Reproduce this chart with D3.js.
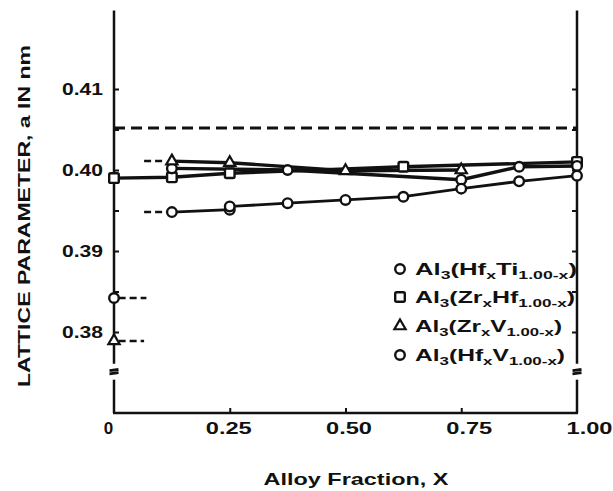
<!DOCTYPE html>
<html>
<head>
<meta charset="utf-8">
<script src="https://cdn.jsdelivr.net/npm/d3@7"></script>
<style>
  body { margin: 0; background: #fff; }
  svg text { font-family: "Liberation Sans", Arial, sans-serif; font-weight: bold; fill: #111; }
</style>
</head>
<body>
<div id="chart"></div>
<script>
// values
var xHfTi = [0, 0.125, 0.25, 0.25, 0.375, 0.5, 0.625, 0.75, 0.875, 1.0];
var aHfTi = [0.3842, 0.3948, 0.3951, 0.3955, 0.3959, 0.3963, 0.3967, 0.3977, 0.3986, 0.3993];

var xZrHf = [0, 0.125, 0.25, 0.625, 1.0];
var aZrHf = [0.3990, 0.3991, 0.3996, 0.4004, 0.4010];

var xZrV = [0, 0.125, 0.25, 0.5, 0.75];
var aZrV = [0.3789, 0.4011, 0.4009, 0.3999, 0.4000];

var xHfV = [0.125, 0.375, 0.75, 0.875, 1.0];
var aHfV = [0.4002, 0.4000, 0.3988, 0.4004, 0.4005];

var refLattice = 0.4052;   // dashed reference line
var breakValue = 0.3751;   // axis break

// dashed lead-ins  [from x, to x, a]
var stubs = [[0.01, 0.07, 0.3842], [0.01, 0.065, 0.3789], [0.065, 0.11, 0.4011], [0.065, 0.11, 0.3948]];

var yTicks = [0.38, 0.385, 0.39, 0.395, 0.40, 0.405, 0.41];
var yLabels = [0.38, 0.39, 0.40, 0.41];
var xTicks = [0.25, 0.5, 0.75];
var xLabels = [0, 0.25, 0.5, 0.75, 1.0];
var xLabelText = ["0", "0.25", "0.50", "0.75", "1.00"];

var legendSymbols = ["circle", "square", "triangle", "circle"];
var legendParts = [
  [["Al", 0], ["3", 1], ["(Hf", 0], ["x", 1], ["Ti", 0], ["1.00-x", 1], [")", 0]],
  [["Al", 0], ["3", 1], ["(Zr", 0], ["x", 1], ["Hf", 0], ["1.00-x", 1], [")", 0]],
  [["Al", 0], ["3", 1], ["(Zr", 0], ["x", 1], ["V", 0], ["1.00-x", 1], [")", 0]],
  [["Al", 0], ["3", 1], ["(Hf", 0], ["x", 1], ["V", 0], ["1.00-x", 1], [")", 0]]
];
var legendWidths = [162, 160, 147, 150];

var width = 613, height = 491;
var ink = "#111";

var svg = d3.select("#chart").append("svg")
  .attr("width", width)
  .attr("height", height);

var x = d3.scaleLinear().domain([0, 1]).range([114, 577]);
var xLab = d3.scaleLinear().domain([0, 1]).range([108, 589]);
var y = d3.scaleLinear().domain([0.37, 0.42]).range([413, 8]);

var yTop = 0.4197;
var gap = 8;

// axis frame (left & right with break, bottom)
[0, 1].forEach(function(side) {
  var px = x(side);
  svg.append("line").attr("x1", px).attr("x2", px)
    .attr("y1", y(yTop)).attr("y2", y(breakValue) - gap)
    .attr("stroke", ink).attr("stroke-width", 2.5);
  svg.append("line").attr("x1", px).attr("x2", px)
    .attr("y1", y(breakValue) + gap).attr("y2", y(0.37))
    .attr("stroke", ink).attr("stroke-width", 2.5);
  [-1.6, 1.6].forEach(function(o) {
    svg.append("line")
      .attr("x1", px - 4.5).attr("x2", px + 4.5)
      .attr("y1", y(breakValue) + o + 0.6).attr("y2", y(breakValue) + o - 0.6)
      .attr("stroke", ink).attr("stroke-width", 2.8);
  });
});
svg.append("line").attr("x1", x(0) - 1).attr("x2", x(1) + 1)
  .attr("y1", y(0.37)).attr("y2", y(0.37))
  .attr("stroke", ink).attr("stroke-width", 2.5);

// inward ticks
var leftTicks = svg.append("g").attr("transform", "translate(" + x(0) + ",0)")
  .call(d3.axisLeft(y).tickValues(yTicks).tickSize(-5).tickFormat(""));
var rightTicks = svg.append("g").attr("transform", "translate(" + x(1) + ",0)")
  .call(d3.axisRight(y).tickValues(yTicks).tickSize(-5).tickFormat(""));
var bottomTicks = svg.append("g").attr("transform", "translate(0," + y(0.37) + ")")
  .call(d3.axisBottom(x).tickValues(xTicks).tickSize(-5).tickFormat(""));
[leftTicks, rightTicks, bottomTicks].forEach(function(g) {
  g.select(".domain").remove();
  g.selectAll("line").attr("stroke", ink).attr("stroke-width", 2);
});

// tick labels
var yLab = svg.append("g").attr("transform", "translate(" + x(0) + ",0)")
  .call(d3.axisLeft(y).tickValues(yLabels).tickSize(0).tickPadding(11)
    .tickFormat(d3.format(".2f")));
yLab.select(".domain").remove();
yLab.selectAll("text").attr("font-size", 17).attr("font-family", null)
  .attr("textLength", 41).attr("lengthAdjust", "spacingAndGlyphs");

var xLabG = svg.append("g").attr("transform", "translate(0," + y(0.37) + ")")
  .call(d3.axisBottom(xLab).tickValues(xLabels).tickSize(0).tickPadding(9)
    .tickFormat(function(d, i) { return xLabelText[i]; }));
xLabG.select(".domain").remove();
xLabG.selectAll("text").attr("font-size", 17).attr("font-family", null)
  .each(function(d, i) {
    if (i > 0) d3.select(this).attr("textLength", 46).attr("lengthAdjust", "spacingAndGlyphs");
  });

// axis titles
svg.append("text")
  .attr("x", 356).attr("y", 485)
  .attr("text-anchor", "middle")
  .attr("font-size", 17)
  .attr("textLength", 185).attr("lengthAdjust", "spacingAndGlyphs")
  .text("Alloy Fraction, X");

svg.append("text")
  .attr("transform", "translate(30,216) rotate(-90)")
  .attr("text-anchor", "middle")
  .attr("font-size", 16)
  .attr("textLength", 342).attr("lengthAdjust", "spacingAndGlyphs")
  .text("LATTICE PARAMETER, a IN nm");

// reference dashed line
svg.append("line")
  .attr("x1", x(0)).attr("x2", x(1))
  .attr("y1", y(refLattice)).attr("y2", y(refLattice))
  .attr("stroke", ink).attr("stroke-width", 3)
  .attr("stroke-dasharray", "11,6");

// dashed lead-ins
svg.selectAll(".stub").data(stubs).enter().append("line")
  .attr("class", "stub")
  .attr("x1", function(d) { return x(d[0]); })
  .attr("x2", function(d) { return x(d[1]); })
  .attr("y1", function(d) { return y(d[2]); })
  .attr("y2", function(d) { return y(d[2]); })
  .attr("stroke", ink).attr("stroke-width", 2.5)
  .attr("stroke-dasharray", "7,4");

function pts(xs, as) {
  return xs.map(function(v, i) { return [v, as[i]]; });
}

var line = d3.line()
  .x(function(d) { return x(d[0]); })
  .y(function(d) { return y(d[1]); });

var hfTi = pts(xHfTi, aHfTi);
var zrHf = pts(xZrHf, aZrHf);
var zrV = pts(xZrV, aZrV);
var hfV = pts(xHfV, aHfV);

// solid lines (the x=0 Ti and V end members are broken off)
[[hfTi.slice(1), 2.8], [zrHf, 3.4], [zrV.slice(1), 3.4], [hfV, 3.4]].forEach(function(s) {
  svg.append("path").datum(s[0])
    .attr("d", line)
    .attr("fill", "none")
    .attr("stroke", ink)
    .attr("stroke-width", s[1]);
});

function drawSymbol(g, type, cx, cy) {
  if (type == "circle") {
    g.append("circle").attr("cx", cx).attr("cy", cy).attr("r", 4.8)
      .attr("fill", "#fff").attr("stroke", ink).attr("stroke-width", 2.4);
  } else if (type == "square") {
    g.append("rect").attr("x", cx - 4.8).attr("y", cy - 4.8)
      .attr("width", 9.6).attr("height", 9.6).attr("rx", 1.5)
      .attr("fill", "#fff").attr("stroke", ink).attr("stroke-width", 2.4);
  } else {
    g.append("path")
      .attr("transform", "translate(" + cx + "," + cy + ")")
      .attr("d", d3.symbol().type(d3.symbolTriangle).size(55)())
      .attr("fill", "#fff").attr("stroke", ink).attr("stroke-width", 2.2);
  }
}

var marks = svg.append("g");
zrHf.forEach(function(d) { drawSymbol(marks, "square", x(d[0]), y(d[1])); });
hfV.forEach(function(d) { drawSymbol(marks, "circle", x(d[0]), y(d[1])); });
zrV.forEach(function(d) { drawSymbol(marks, "triangle", x(d[0]), y(d[1])); });
hfTi.forEach(function(d) { drawSymbol(marks, "circle", x(d[0]), y(d[1])); });

// legend
var legend = svg.append("g");
var rowY = [269, 297, 326, 355];
legendParts.forEach(function(parts, i) {
  drawSymbol(legend, legendSymbols[i], 400, rowY[i]);
  var t = legend.append("text")
    .attr("x", 415).attr("y", rowY[i] + 6)
    .attr("font-size", 16)
    .attr("textLength", legendWidths[i]).attr("lengthAdjust", "spacingAndGlyphs");
  var shift = 0;
  parts.forEach(function(p) {
    var target = p[1] ? 4 : 0;
    t.append("tspan")
      .attr("dy", target - shift)
      .attr("font-size", p[1] ? 11 : 16)
      .text(p[0]);
    shift = target;
  });
});
</script>
</body>
</html>
